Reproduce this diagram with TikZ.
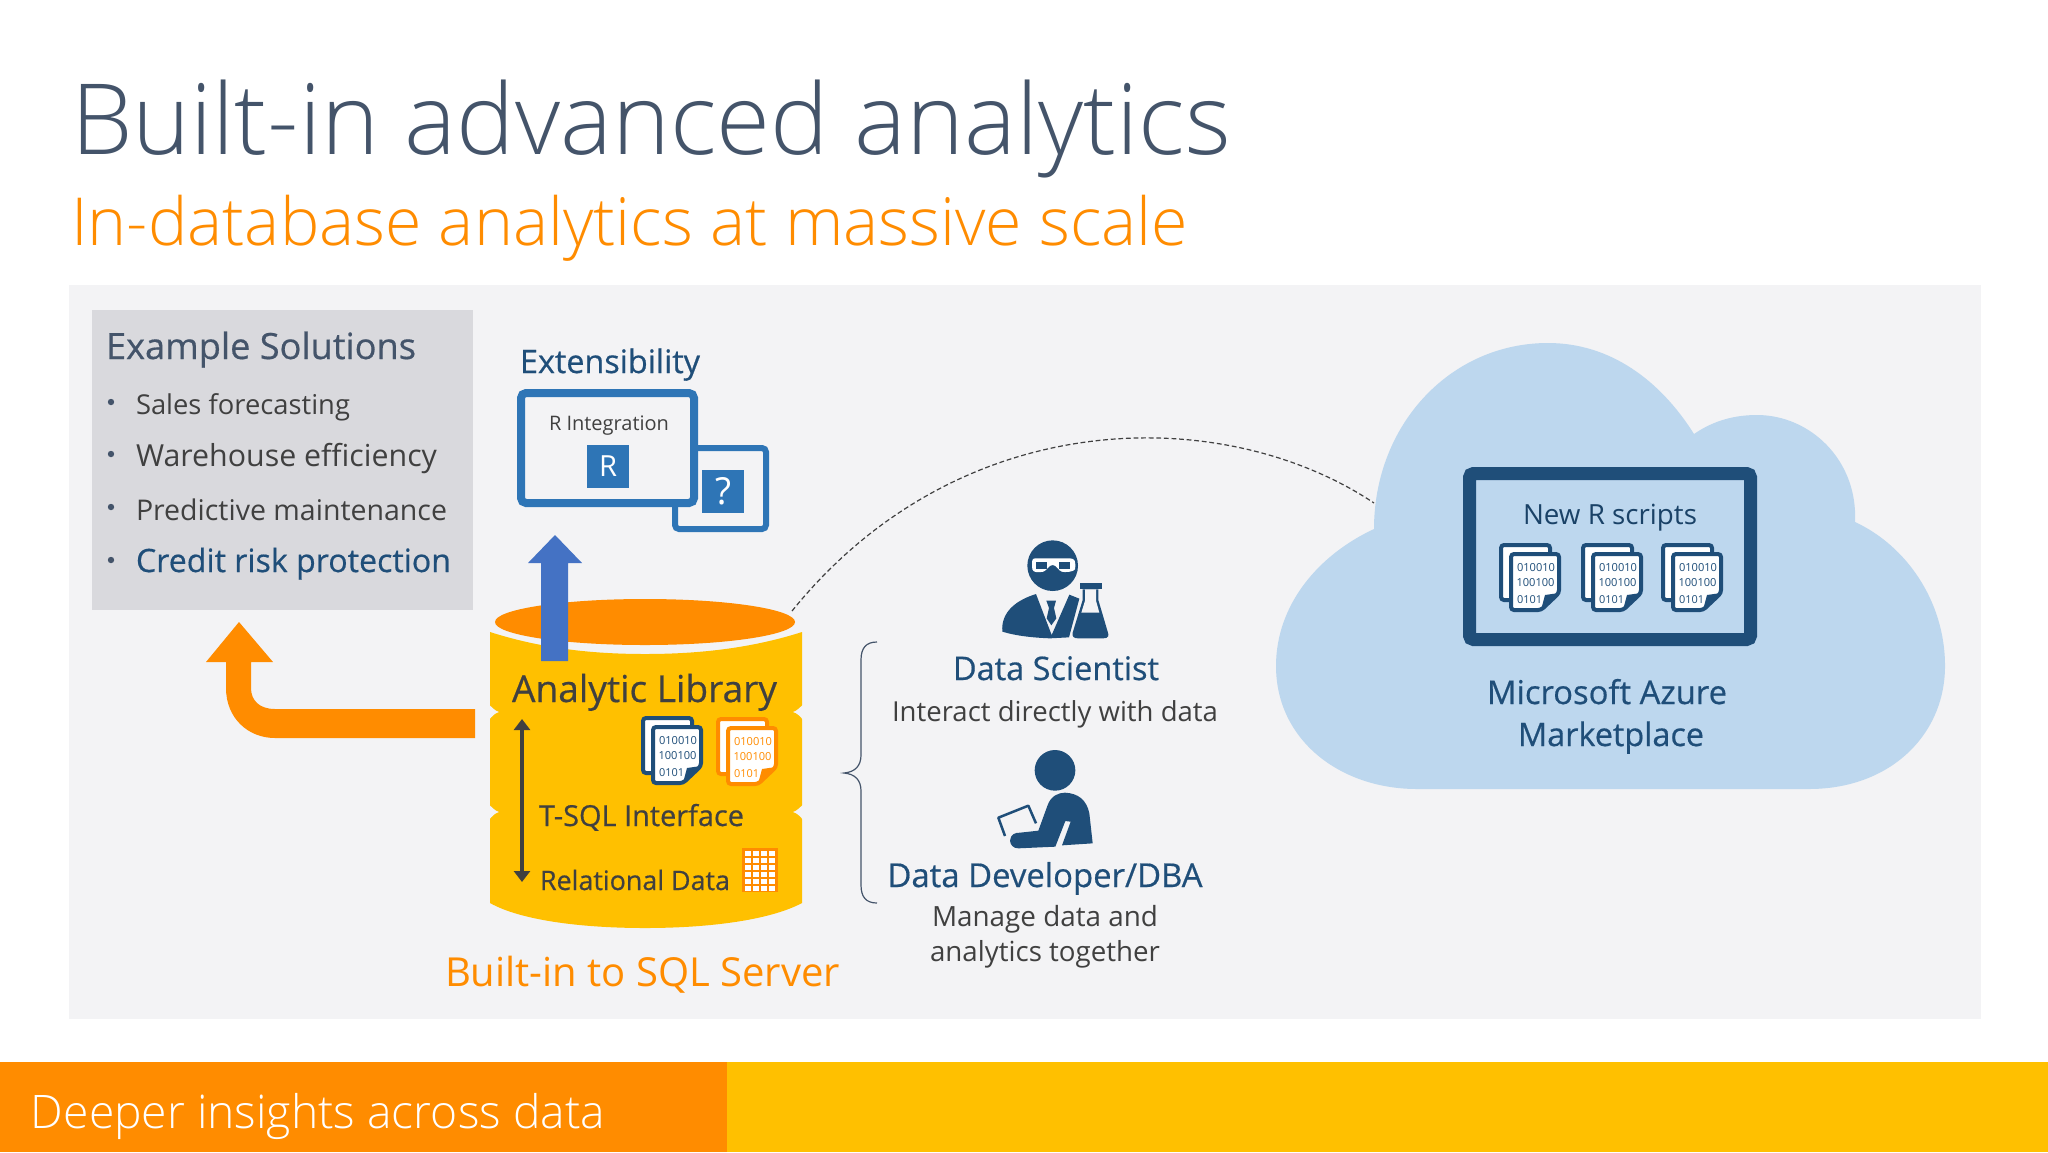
\documentclass[tikz,border=0pt]{standalone}
\usepackage{fontspec}
\usepackage{graphicx}
\setmainfont{Open Sans}
\newfontfamily\lightf{Open Sans}[UprightFont=* Light]
\newfontfamily\semif{Open Sans}[FakeBold=0.5]
\usetikzlibrary{arrows.meta}
\definecolor{navy}{HTML}{1F4E79}
\definecolor{midblue}{HTML}{2E75B6}
\definecolor{arrowblue}{HTML}{4472C4}
\definecolor{amber}{HTML}{FFC000}
\definecolor{tangerine}{HTML}{FF8C00}
\definecolor{cloudblue}{HTML}{BDD7EE}
\definecolor{panelbg}{HTML}{F3F3F5}
\definecolor{greybox}{HTML}{D9D9DD}
\definecolor{slate}{HTML}{44546A}
\definecolor{ink}{HTML}{404040}
\newcommand{\fit}[2]{\resizebox{#1pt}{!}{#2}}
\newcommand{\docicon}[4]{%
  \begin{scope}[shift={(#1,#2)}]
    \draw[#3,line width=2pt,fill=white,rounded corners=1.5pt] (0,0) rectangle (49,55);
    \draw[#3,line width=2pt,fill=white,rounded corners=1.5pt] (10,9) -- (58,9) -- (58,48) -- (40,65) -- (10,65) -- cycle;
    \node[doctext,text=#3] (#4a) at (16,26) {\fit{19}{010010}};
    \node[doctext,text=#3] (#4b) at (15.5,41) {\fit{19}{100100}};
    \node[doctext,text=#3] (#4c) at (16,58) {\fit{12.5}{0101}};
    \fill[#3] (40,65) -- (58,48) -- (44,50) -- cycle;
  \end{scope}}
\tikzset{
  x=0.5pt,y=-0.5pt,
  lbl/.style={inner sep=0pt,outer sep=0pt,anchor=base west},
  clbl/.style={inner sep=0pt,outer sep=0pt,anchor=base},
  doctext/.style={inner sep=0pt,outer sep=0pt,anchor=base west},
  squarebox/.style={fill=midblue,text=white,inner sep=0pt,outer sep=0pt,anchor=center,minimum width=21pt,minimum height=21.5pt},
}
\begin{document}
\begin{tikzpicture}
\useasboundingbox (0,0) rectangle (2048,1152);
\fill[white] (0,0) rectangle (2048,1152);
% panel and footer
\fill[panelbg] (69,285) rectangle (1981,1019);
\fill[amber] (727,1062) rectangle (2048,1152);
\fill[tangerine] (0,1062) rectangle (727,1152);
\node[lbl,text=white] (footer) at (31,1128) {\fit{287}{\lightf Deeper insights across data}};
% titles
\node[lbl,text=slate] (title) at (71,154) {\fit{580}{\lightf Built-in advanced analytics}};
\node[lbl,text=tangerine] (subtitle) at (71,245) {\fit{558.5}{\lightf In-database analytics at massive scale}};
% example solutions
\fill[greybox] (92,310) rectangle (473,610);
\node[lbl,text=slate] (ex) at (106,359) {\fit{155}{\semif Example Solutions}};
\foreach \yy/\nm in {402/b1,454/b2,507/b3,560/b4}{
  \fill[slate] (111,\yy) circle [radius=3.2];
}
\node[lbl,text=ink] (s1) at (136,414) {\fit{107}{Sales forecasting}};
\node[lbl,text=ink] (s2) at (136,466) {\fit{150.5}{Warehouse efficiency}};
\node[lbl,text=ink] (s3) at (136,520) {\fit{155.5}{Predictive maintenance}};
\node[lbl,text=navy] (s4) at (136,572) {\fit{157.5}{\semif Credit risk protection}};
% extensibility
\node[lbl,text=navy] (ext) at (520,373) {\fit{90}{\semif Extensibility}};
\draw[midblue,line width=3pt,fill=panelbg,rounded corners=2pt] (675,448) rectangle (766,529);
\draw[midblue,line width=4pt,fill=panelbg,rounded corners=2.5pt] (521,393) rectangle (694,503);
\node[clbl,text=ink] (rint) at (609,430) {\fit{60}{R Integration}};
\node[squarebox] (rsq) at (608,466.5) {\fit{9}{R}};
\node[squarebox] (qsq) at (723,491) {\fit{8}{?}};
% database
\fill[amber] (490,632) .. controls (540,648) and (590,654) .. (645,654) .. controls (700,654) and (752,648) .. (802,632)
  -- (802,903) .. controls (770,920) and (710,928) .. (645,928) .. controls (580,928) and (520,920) .. (490,903) -- cycle;
\foreach \ny in {712,812}{
  \fill[panelbg] (488,\ny-8) .. controls (492,\ny-5) and (495,\ny-1) .. (499,\ny) .. controls (495,\ny+1) and (492,\ny+4) .. (488,\ny+9) -- cycle;
  \fill[panelbg] (804,\ny-8) .. controls (800,\ny-5) and (797,\ny-1) .. (793,\ny) .. controls (797,\ny+1) and (800,\ny+4) .. (804,\ny+9) -- cycle;
}
\fill[tangerine] (645,622) ellipse [x radius=150,y radius=23];
% blue up arrow
\fill[arrowblue] (555,535) -- (582,563) -- (568,563) -- (568,661) -- (541,661) -- (541,563) -- (528,563) -- cycle;
% orange arrow
\fill[tangerine] (475,709) -- (275,709) .. controls (259,709) and (251,700) .. (251,688) -- (251,662) -- (273,662) -- (239,622) -- (206,662) -- (226,662) -- (226,688)
  .. controls (226,718) and (248,738) .. (275,738) -- (475,738) -- cycle;
\node[lbl,text=ink] (alib) at (512,702) {\fit{132.5}{\semif Analytic Library}};
\node[lbl,text=ink] (tsql) at (539,826) {\fit{102.5}{\semif T-SQL Interface}};
\node[lbl,text=ink] (rel) at (540,890) {\fit{95}{\semif Relational Data}};
\node[lbl,text=tangerine] (built) at (445,986) {\fit{197.5}{Built-in to SQL Server}};
\docicon{643}{718}{navy}{da}
\docicon{718}{719}{tangerine}{db}
% table icon
\fill[tangerine] (742,848) rectangle (778,892);
\foreach \cx in {0,1,2,3}{\foreach \cy in {0,1,2,3,4,5}{
  \fill[white] (744.5+\cx*8.1,850.5+\cy*7) rectangle ++(6.3,5);
}}
% double arrow
\coordinate (ta) at (522,719);
\coordinate (tb) at (522,882);
\draw[ink,line width=2.2pt,{Triangle[width=8pt,length=5.5pt]}-{Triangle[width=8pt,length=5.5pt]}] (ta) -- (tb);
% brace
\draw[slate,line width=0.6pt] (877,642) .. controls (866,642) and (861,648) .. (861,660) -- (861,755) .. controls (861,766) and (855,772) .. (844,773)
  .. controls (855,774) and (861,780) .. (861,791) -- (861,885) .. controls (861,897) and (866,903) .. (877,903);
% dashed link
\coordinate (da) at (792,611);
\coordinate (db) at (1374,503);
\draw[ink,line width=0.6pt,dash pattern=on 2.4pt off 1.4pt] (da) .. controls (960,403) and (1224,403) .. (db);
% data scientist
\begin{scope}[shift={(950,520)},scale=1/3]
  \fill[navy] (308,137) circle [radius=76];
  \fill[white] (255,115) -- (360,115) .. controls (375,115) and (378,125) .. (375,148) .. controls (372,155) and (345,158) .. (335,155) .. controls (325,152) and (320,135) .. (308,135) .. controls (296,135) and (290,152) .. (280,155) .. controls (265,158) and (250,158) .. (247,148) .. controls (245,125) and (245,115) .. (255,115) -- cycle;
  \fill[navy] (259,125) rectangle (291,147);
  \fill[navy] (327,125) rectangle (361,147);
  \fill[navy] (157,335) .. controls (152,275) and (200,240) .. (258,222) -- (305,345) -- (358,224) -- (388,236) -- (357,352) -- (300,355) .. controls (250,353) and (200,348) .. (157,335) -- cycle;
  \fill[navy] (289,242) -- (318,242) -- (312,264) -- (319,295) -- (304,316) -- (290,295) -- (297,264) -- cycle;
  \fill[navy] (390,190) rectangle (455,208);
  \fill[navy] (398,208) -- (398,240) -- (368,338) .. controls (365,350) and (372,355) .. (385,355) -- (460,355) .. controls (475,355) and (478,347) .. (473,335) -- (445,240) -- (445,208) -- cycle;
  \fill[panelbg] (405,208) -- (438,208) -- (438,242) -- (448,278) -- (394,278) -- (405,242) -- cycle;
\end{scope}
\node[clbl,text=navy] (ds) at (1056,680) {\fit{103}{\semif Data Scientist}};
\node[clbl,text=ink] (dst) at (1055,721) {\fit{163}{Interact directly with data}};
% data developer
\begin{scope}[shift={(950,520)},scale=1/3]
  \fill[navy] (315,751) circle [radius=61];
  \fill[navy] (180,962) .. controls (182,942) and (195,938) .. (210,938) -- (265,932) -- (293,855) .. controls (303,828) and (325,818) .. (345,818) .. controls (385,820) and (410,840) .. (418,880) -- (428,970) -- (336,976) -- (362,905) -- (346,903) -- (316,980) -- (205,985) .. controls (190,985) and (181,975) .. (180,962) -- cycle;
  \draw[navy,line width=1.25pt,line join=round] (165,948) -- (145,893) -- (235,857) -- (258,910);
\end{scope}
\node[clbl,text=navy] (dd) at (1045,887) {\fit{157.5}{\semif Data Developer/DBA}};
\node[clbl,text=ink] (dd1) at (1045,926) {\fit{113}{Manage data and}};
\node[clbl,text=ink] (dd2) at (1045,961) {\fit{115}{analytics together}};
% cloud
\fill[cloudblue] (1417,789) -- (1809,789) .. controls (1890,789) and (1945,735) .. (1945,666) .. controls (1945,600) and (1905,545) .. (1855,522)
  .. controls (1858,460) and (1810,415) .. (1757,415) .. controls (1730,415) and (1710,423) .. (1694,434)
  .. controls (1660,380) and (1610,343) .. (1548,343) .. controls (1450,343) and (1374,425) .. (1374,529)
  .. controls (1318,555) and (1276,605) .. (1276,666) .. controls (1276,740) and (1340,789) .. (1417,789) -- cycle;
\draw[navy,line width=6.5pt,rounded corners=2pt] (1469.5,473.5) rectangle (1750.5,639.5);
\node[clbl,text=navy!85!black] (nrs) at (1610,524) {\fit{87}{New R scripts}};
\docicon{1501}{545}{navy}{dc}
\docicon{1583}{545}{navy}{dd}
\docicon{1663}{545}{navy}{de}
\node[clbl,text=navy] (ma) at (1607,704) {\fit{120}{\semif Microsoft Azure}};
\node[clbl,text=navy] (mp) at (1611,746) {\fit{93}{\semif Marketplace}};
\end{tikzpicture}
\end{document}
